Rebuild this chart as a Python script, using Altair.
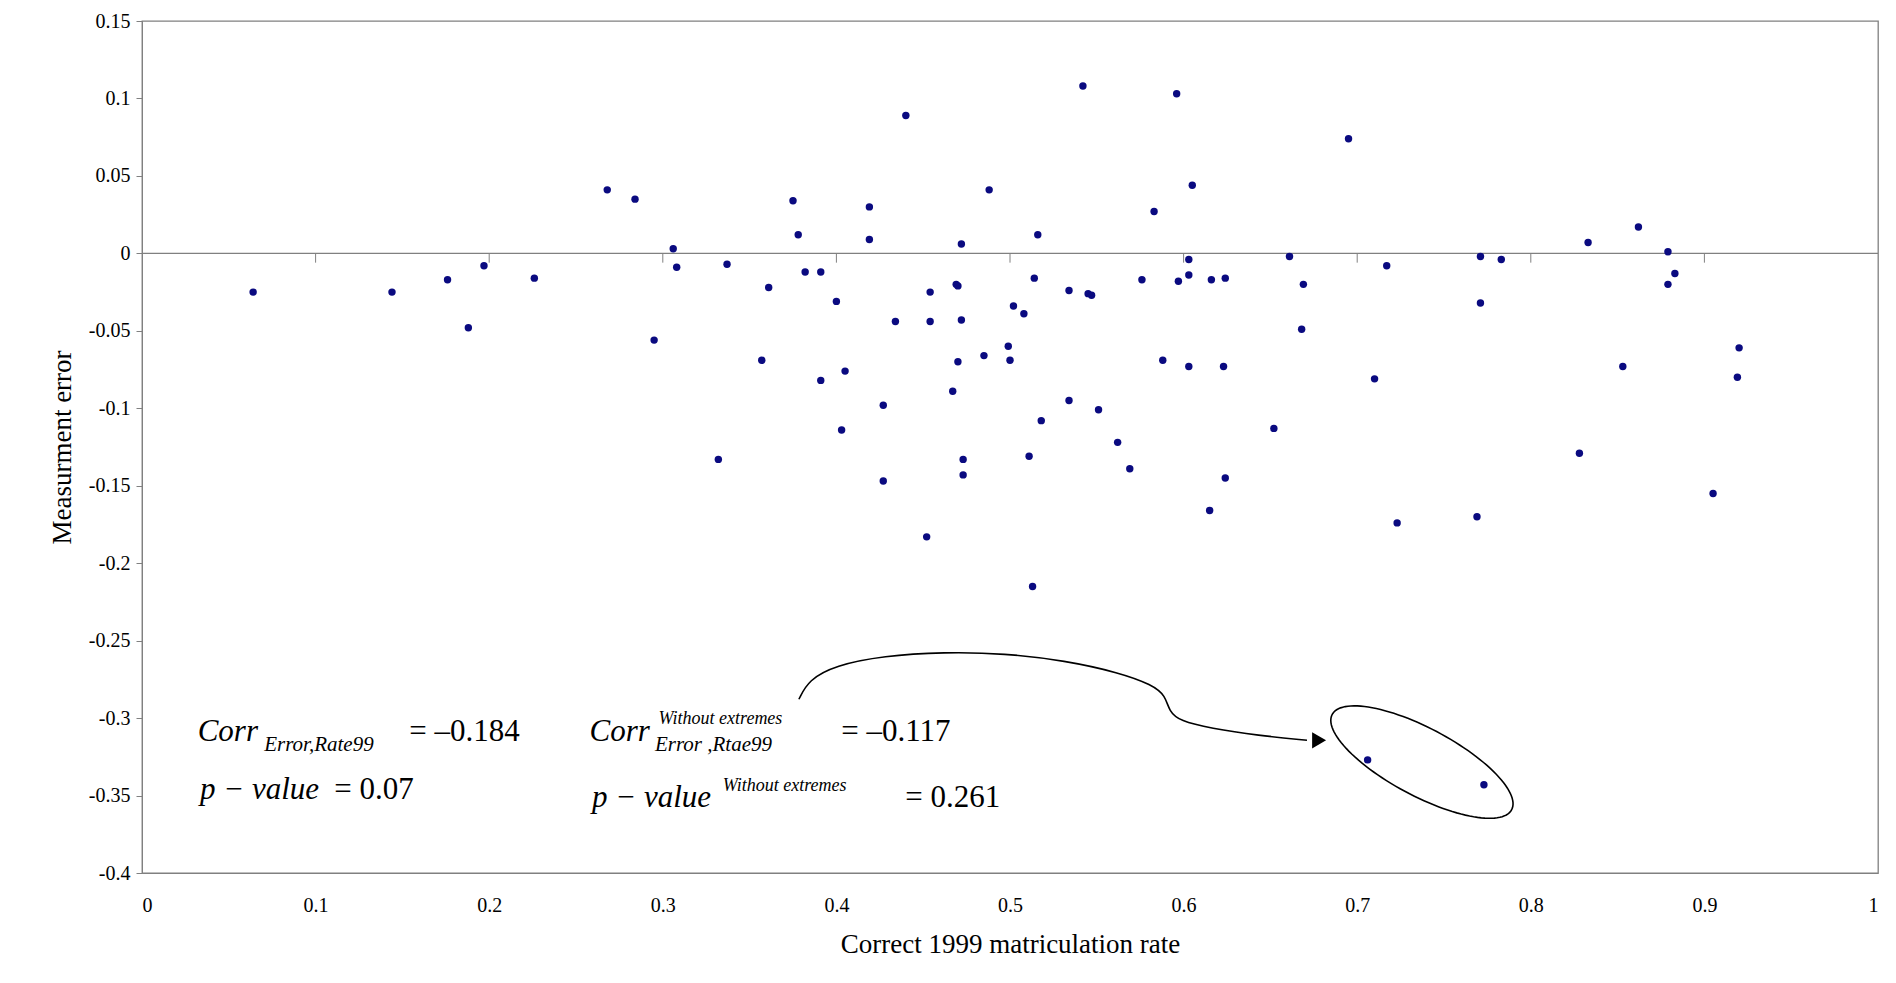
import numpy as np
import pandas as pd
import altair as alt

# data
rate = [0.064, 0.144, 0.176, 0.188, 0.197, 0.226, 0.268, 0.284, 0.295, 0.306, 0.308, 0.332,
        0.337, 0.357, 0.361, 0.375, 0.378, 0.382, 0.391, 0.391, 0.400, 0.403, 0.405, 0.419,
        0.419, 0.427, 0.427, 0.434, 0.440, 0.452, 0.454, 0.454, 0.467, 0.469, 0.470, 0.470,
        0.472, 0.472, 0.473, 0.473, 0.485, 0.488, 0.499, 0.500, 0.502, 0.508, 0.511, 0.513,
        0.514, 0.516, 0.518, 0.534, 0.534, 0.542, 0.545, 0.547, 0.551, 0.562, 0.569, 0.576,
        0.583, 0.588, 0.596, 0.597, 0.603, 0.603, 0.603, 0.605, 0.615, 0.616, 0.623, 0.624,
        0.624, 0.652, 0.661, 0.668, 0.669, 0.695, 0.710, 0.717, 0.723, 0.706, 0.773, 0.769,
        0.771, 0.771, 0.783, 0.828, 0.833, 0.853, 0.862, 0.879, 0.879, 0.883, 0.905, 0.919, 0.920]
error = [-0.025, -0.025, -0.017, -0.048, -0.008, -0.016, 0.041, 0.035, -0.056, 0.003, -0.009, -0.133,
         -0.007, -0.069, -0.022, 0.034, 0.012, -0.012, -0.012, -0.082, -0.031, -0.114, -0.076, 0.030,
         0.009, -0.098, -0.147, -0.044, 0.089, -0.183, -0.025, -0.044, -0.089, -0.020, -0.021, -0.070,
         0.006, -0.043, -0.133, -0.143, -0.066, 0.041, -0.060, -0.069, -0.034, -0.039, -0.131, -0.215,
         -0.016, 0.012, -0.108, -0.095, -0.024, 0.108, -0.026, -0.027, -0.101, -0.122, -0.139, -0.017,
         0.027, -0.069, 0.103, -0.018, -0.004, -0.014, -0.073, 0.044, -0.166, -0.017, -0.073, -0.145,
         -0.016, -0.113, -0.002, -0.049, -0.020, 0.074, -0.081, -0.008, -0.174, -0.327, -0.343, -0.170,
         -0.032, -0.002, -0.004, -0.129, 0.007, -0.073, 0.017, 0.001, -0.020, -0.013, -0.155, -0.080, -0.061]

x_ticks = [0, 0.1, 0.2, 0.3, 0.4, 0.5, 0.6, 0.7, 0.8, 0.9, 1]
y_ticks = [0.15, 0.1, 0.05, 0, -0.05, -0.1, -0.15, -0.2, -0.25, -0.3, -0.35, -0.4]

FONT = "Liberation Serif"
W, H = 1736, 852
xs = alt.Scale(domain=[0, 1], nice=False)
ys = alt.Scale(domain=[-0.4, 0.15], nice=False)

def px(x, y):
    # reference-image pixel -> data units (annotation helper)
    return (x - 117) / 1435, (209 - y) / 1282

pts = pd.DataFrame({"rate": rate, "error": error})
points = alt.Chart(pts).mark_circle(size=55, color="#0a0a80", opacity=1).encode(
    x=alt.X("rate:Q", scale=xs,
            axis=alt.Axis(values=x_ticks, title="Correct 1999 matriculation rate", ticks=False,
                          domain=True, domainColor="#808080", labelPadding=22, titlePadding=16,
                          grid=False, labelExpr="datum.value + ''")),
    y=alt.Y("error:Q", scale=ys,
            axis=alt.Axis(values=y_ticks, title="Measurment error", tickSize=6, tickColor="#808080",
                          domainColor="#808080", grid=False, labelPadding=6, titlePadding=12,
                          labelExpr="datum.value + ''")),
)

zero = alt.Chart(pd.DataFrame({"y": [0]})).mark_rule(color="#808080", strokeWidth=1.3).encode(y="y:Q")
ticks = alt.Chart(pd.DataFrame({"x": x_ticks[1:-1], "y": [0] * 9, "y2": [-0.006] * 9})).mark_rule(
    color="#808080").encode(x=alt.X("x:Q", scale=xs), y=alt.Y("y:Q", scale=ys), y2="y2:Q")

# ellipse around the two extremes
t = np.linspace(0, 2 * np.pi, 120)
ang = np.deg2rad(28)
ex = 1175 + 84 * np.cos(t) * np.cos(ang) - 28 * np.sin(t) * np.sin(ang)
ey = 630 + 84 * np.cos(t) * np.sin(ang) + 28 * np.sin(t) * np.cos(ang)
ell = pd.DataFrame({"x": (ex - 117) / 1435, "y": (209 - ey) / 1282, "o": np.arange(len(t))})
ellipse = alt.Chart(ell).mark_line(color="black", strokeWidth=1.6).encode(
    x=alt.X("x:Q", scale=xs), y=alt.Y("y:Q", scale=ys), order="o:Q")

# curved arrow
cx = [660, 668, 690, 730, 780, 830, 880, 925, 952, 963, 966, 975, 1000, 1040, 1080]
cy = [578, 562, 550, 542, 539, 540, 546, 556, 566, 575, 588, 596, 602, 608, 612]
cur = pd.DataFrame({"x": [(a - 117) / 1435 for a in cx], "y": [(209 - b) / 1282 for b in cy],
                    "o": range(len(cx))})
curve = alt.Chart(cur).mark_line(color="black", strokeWidth=1.6, interpolate="basis").encode(
    x=alt.X("x:Q", scale=xs), y=alt.Y("y:Q", scale=ys), order="o:Q")
hx, hy = px(1090, 612)
head = alt.Chart(pd.DataFrame({"x": [hx], "y": [hy]})).mark_point(
    shape="triangle-right", filled=True, color="black", size=260, opacity=1).encode(
    x=alt.X("x:Q", scale=xs), y=alt.Y("y:Q", scale=ys))

# formula text pieces: (text, x px, y px, size, italic)
pieces = [
    ("Corr", 163, 605, 31, True), ("Error,Rate99", 218, 616, 21, True), ("= \u20130.184", 338, 605, 31, False),
    ("p \u2212 value", 165, 653, 31, True), ("= 0.07", 276, 653, 31, False),
    ("Corr", 487, 605, 31, True), ("Without   extremes", 544, 594, 18, True),
    ("Error ,Rtae99", 541, 616, 21, True), ("= \u20130.117", 695, 605, 31, False),
    ("p \u2212 value", 489, 660, 31, True), ("Without   extremes", 597, 650, 18, True),
    ("= 0.261", 748, 660, 31, False),
]
layers = []
for s, x0, y0, sz, it in pieces:
    dx, dy = px(x0, y0)
    layers.append(alt.Chart(pd.DataFrame({"x": [dx], "y": [dy], "t": [s]})).mark_text(
        align="left", baseline="middle", font=FONT, fontSize=sz,
        fontStyle="italic" if it else "normal", color="black").encode(
        x=alt.X("x:Q", scale=xs), y=alt.Y("y:Q", scale=ys), text="t:N"))

chart = alt.layer(zero, ticks, points, ellipse, curve, head, *layers).properties(
    width=W, height=H, background="white",
    padding={"left": 40, "top": 3, "right": 5, "bottom": 5}
).configure_view(stroke="#808080", strokeWidth=1.3).configure_axis(
    labelFont=FONT, titleFont=FONT, labelFontSize=20, titleFontSize=27, labelColor="black",
    titleColor="black", titleFontWeight="normal"
)

chart.save("out.html", embed_options={"renderer": "svg", "actions": False})
